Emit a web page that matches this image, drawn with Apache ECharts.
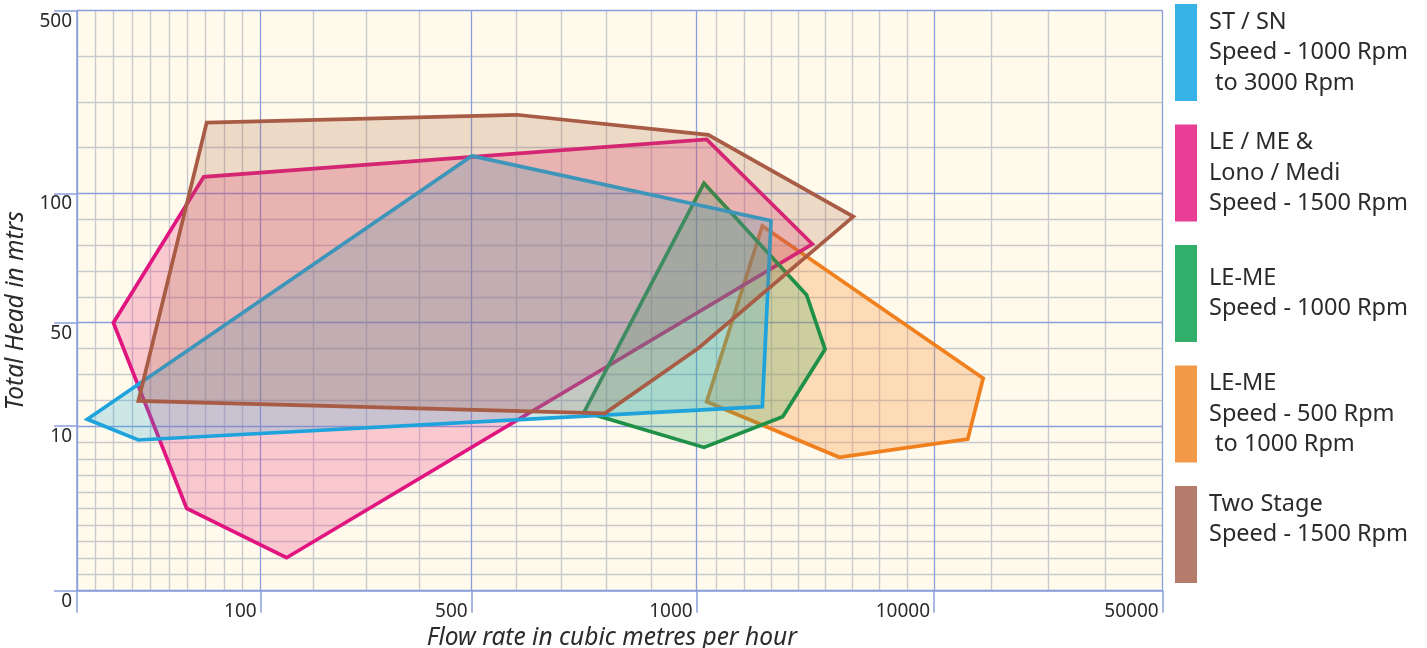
<!DOCTYPE html>
<html>
<head>
<meta charset="utf-8">
<script src="https://cdn.jsdelivr.net/npm/echarts@6/dist/echarts.min.js"></script>
<style>
  html, body { margin: 0; padding: 0; background: #ffffff; }
  #chart { width: 1427px; height: 648px; }
</style>
</head>
<body>
<div id="chart"></div>
<script>
// ── data: [flow m3/h, head m] vertices of each pump range ──
const stSn      = [[500, 182], [4000, 89.4], [3680, 17.5], [33.4, 9.15], [5.6, 12.6]];
const leMe1500  = [[19.8, 50], [69, 136], [1500, 218], [5520, 80.4], [149, 2.0], [59.7, 5.0]];
const leMe1000  = [[1365, 122], [5310, 60.7], [5990, 39.7], [4430, 13.6], [1365, 8.7], [750, 15.5]];
const leMe500   = [[3680, 87.4], [18600, 28.5], [15900, 9.2], [6510, 8.1], [1500, 19.4]];
const twoStage  = [[70.6, 255], [600, 272], [1580, 228], [7030, 91], [1080, 40.1], [796, 14.9], [33.4, 19.7]];

const names = [
  "ST / SN\nSpeed - 1000 Rpm\n to 3000 Rpm",
  "LE / ME &\nLono / Medi\nSpeed - 1500 Rpm",
  "LE-ME\nSpeed - 1000 Rpm",
  "LE-ME\nSpeed - 500 Rpm\n to 1000 Rpm",
  "Two Stage\nSpeed - 1500 Rpm\n"
];

// tick values of the printed grid
const xMajor = [0, 100, 500, 1000, 10000, 50000];
const xLabels = [100, 500, 1000, 10000, 50000];
const xMinor = [10, 20, 30, 40, 50, 60, 70, 80, 90, 200, 300, 400, 600, 700, 800, 900,
                2000, 3000, 4000, 5000, 6000, 7000, 8000, 9000, 20000, 30000, 40000];
const yMajor = [0, 10, 50, 100, 500];
const yMinor = [1, 2, 3, 4, 5, 6, 7, 8, 9, 20, 30, 40, 60, 70, 80, 90, 200, 300, 400];

// ── piecewise scale of the printed chart (value -> axis units) ──
const xStops = [[0, 0], [100, 183.7], [500, 394.7], [1000, 619.7], [2000, 639.7], [10000, 857], [50000, 1085.7]];
const yStops = [[0, 0], [10, 164.7], [50, 268], [100, 397.4], [500, 580]];

function toUnit(stops, v){
  for(let i = 1; i < stops.length; i++){
    const a = stops[i - 1], b = stops[i];
    if(v <= b[0] || i === stops.length - 1){
      return a[1] + (v - a[0]) / (b[0] - a[0]) * (b[1] - a[1]);
    }
  }
}
const toX = v => toUnit(xStops, v);
const toY = v => toUnit(yStops, v);
function labelOf(stops, u){
  const s = stops.find(st => Math.abs(st[1] - u) < 0.01);
  return s ? String(s[0]) : "";
}

const FONT = "Noto Sans";
const BLUE = "#8a9fdc";
const GREY = "#c8c9cf";
const TEXT = "#2b2b2b";

function polygon(name, pts, stroke, fill){
  return {
    type: "custom",
    name,
    xAxisIndex: 1,
    yAxisIndex: 1,
    itemStyle: { color: stroke },
    data: pts.map(p => [toX(p[0]), toY(p[1])]),
    renderItem: (params, api) => {
      if(params.dataIndex !== 0) return;
      const points = pts.map(p => api.coord([toX(p[0]), toY(p[1])]));
      return {
        type: "polygon",
        shape: { points },
        style: { fill, stroke, lineWidth: 3.7, lineJoin: "miter" }
      };
    }
  };
}

const chart = echarts.init(document.getElementById("chart"));

const minorAxis = (vals, conv, pos) => ({
  type: "value", position: pos, min: 0, max: conv === toX ? toX(50000) : toY(500),
  axisLine: { show: false },
  axisTick: { show: false, customValues: vals.map(conv) },
  axisLabel: { show: false },
  splitLine: { show: true, lineStyle: { color: GREY, width: 1.4 } }
});

chart.setOption({
  animation: false,
  backgroundColor: "#ffffff",
  grid: { left: 77, top: 10.7, right: 264.3, bottom: 57.3, show: true,
          containLabel: false, outerBoundsMode: "none",
          backgroundColor: "#fffaeb", borderWidth: 0 },
  legend: {
    orient: "vertical", left: 1175, top: 4, padding: 0,
    itemWidth: 22, itemHeight: 97, itemGap: 23.5, icon: "rect",
    selectedMode: false,
    itemStyle: { borderWidth: 0 },
    textStyle: { fontFamily: FONT, fontSize: 23.5, lineHeight: 30.5, color: TEXT, padding: [0, 0, 0, 7] },
    data: [
      { name: names[0], itemStyle: { color: "#36b2e6" } },
      { name: names[1], itemStyle: { color: "#e83e96" } },
      { name: names[2], itemStyle: { color: "#30ae6a" } },
      { name: names[3], itemStyle: { color: "#f39a48" } },
      { name: names[4], itemStyle: { color: "#b47c6a" } }
    ]
  },
  xAxis: [
    minorAxis(xMinor, toX, "bottom"),
    {
      type: "value", position: "bottom", offset: 0, min: 0, max: toX(50000), z: 1,
      name: "Flow rate in cubic metres per hour",
      nameLocation: "middle", nameGap: 30,
      nameTextStyle: { fontFamily: FONT, fontStyle: "italic", fontSize: 24.5, color: TEXT, padding: [0, 16, 0, 0] },
      axisLine: { onZero: false, lineStyle: { color: BLUE, width: 1.5 } },
      axisTick: { show: true, length: 22, customValues: xMajor.map(toX), lineStyle: { color: BLUE, width: 1.5 } },
      axisLabel: {
        customValues: xLabels.map(toX), formatter: v => labelOf(xStops, v),
        align: "right", margin: 11, padding: [0, 4, 0, 0],
        fontFamily: FONT, fontSize: 19, color: TEXT
      },
      splitLine: { show: true, lineStyle: { color: BLUE, width: 1.3 } }
    }
  ],
  yAxis: [
    minorAxis(yMinor, toY, "left"),
    {
      type: "value", position: "left", offset: 0, min: 0, max: toY(500), z: 1,
      name: "Total Head in mtrs",
      nameLocation: "middle", nameGap: 40,
      nameTextStyle: { fontFamily: FONT, fontStyle: "italic", fontSize: 24.5, color: TEXT, padding: [0, 20, 0, 0] },
      axisLine: { onZero: false, lineStyle: { color: BLUE, width: 1.5 } },
      axisTick: { show: true, length: 23, customValues: yMajor.map(toY), lineStyle: { color: BLUE, width: 1.5 } },
      axisLabel: {
        customValues: yMajor.map(toY), formatter: v => labelOf(yStops, v),
        verticalAlign: "top", margin: 5, padding: [1, 0, 0, 0],
        fontFamily: FONT, fontSize: 19, color: TEXT
      },
      splitLine: { show: true, lineStyle: { color: BLUE, width: 1.3 } }
    }
  ],
  series: [
    polygon(names[3], leMe500,  "#f07f1d", "rgba(246,150,60,0.30)"),
    polygon(names[1], leMe1500, "#e0157f", "rgba(236,60,130,0.26)"),
    polygon(names[2], leMe1000, "#1e9048", "rgba(40,160,80,0.22)"),
    polygon(names[0], stSn,     "#1fa3dc", "rgba(40,170,215,0.24)"),
    polygon(names[4], twoStage, "#a85c45", "rgba(170,100,70,0.22)")
  ]
});
window.addEventListener("resize", () => chart.resize());
</script>
</body>
</html>
